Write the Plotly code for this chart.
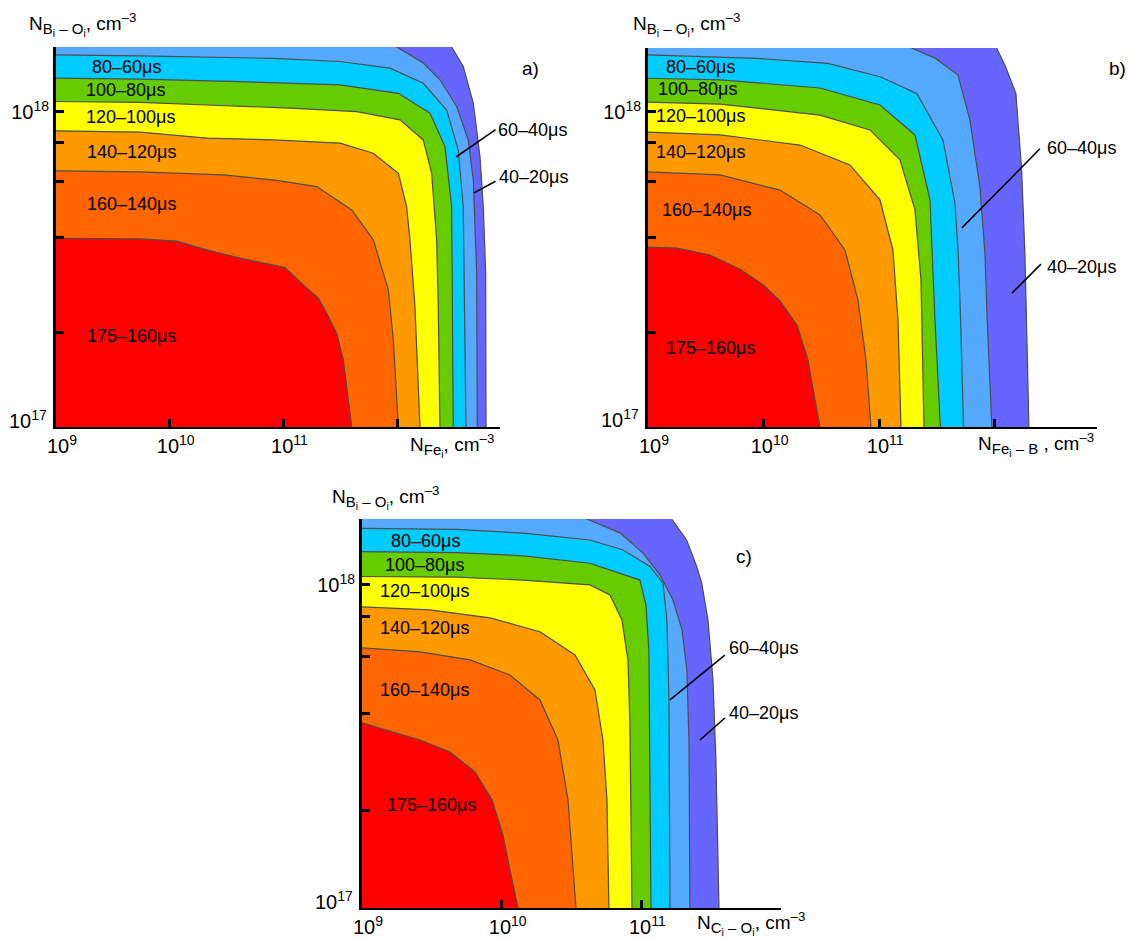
import plotly.graph_objects as go

# ---------------- data (log10 of concentrations) ----------------
LEVELS = [160, 140, 120, 100, 80, 60, 40, 20]          # lifetime contour levels, µs
REGION_COLORS = ["#FF0000", "#FF6600", "#FF9900", "#FFFF00",
                 "#66CC00", "#00CCFF", "#55AAFF", "#6666FF"]
REGION_LABELS = ["175–160μs", "160–140μs", "140–120μs", "120–100μs",
                 "100–80μs", "80–60μs", "60–40μs", "40–20μs"]

X_TICKS = [9, 10, 11, 12]
X_TICK_TEXT = ["10<sup>9</sup>", "10<sup>10</sup>", "10<sup>11</sup>", ""]
Y_TICKS = [1e17, 2e17, 4e17, 6e17, 8e17, 1e18]
Y_TICK_TEXT = ["", "", "", "", "", "10<sup>18</sup>"]
Y_BOTTOM_TEXT = "10<sup>17</sup>"

# panel a) Fe_i
A_RANGE_X = [9.0, 12.905]
A_RANGE_Y = [17.0, 18.206]
A_LOGX = [
    [9, 9.739, 10.061, 10.325, 10.618, 11.014, 11.175, 11.307, 11.366, 11.469, 11.527, 11.601],
    [9, 9.739, 10.472, 10.911, 11.293, 11.601, 11.791, 11.879, 11.923, 11.967, 12.011],
    [9, 9.739, 10.325, 10.911, 11.498, 11.791, 12.011, 12.084, 12.113, 12.157, 12.201],
    [9, 9.739, 10.325, 11.058, 11.645, 12.026, 12.230, 12.304, 12.348, 12.362, 12.377],
    [9, 9.739, 10.618, 11.498, 12.011, 12.289, 12.421, 12.480, 12.494],
    [9, 9.739, 10.911, 11.498, 11.938, 12.230, 12.436, 12.538, 12.582, 12.606],
    [11.996, 12.230, 12.377, 12.524, 12.626, 12.670, 12.700, 12.705],
    [12.480, 12.582, 12.670, 12.729, 12.758, 12.779, 12.782],
]
A_LOGY = [
    [17.599, 17.597, 17.590, 17.562, 17.536, 17.506, 17.451, 17.409, 17.371, 17.297, 17.213, 17.0],
    [17.813, 17.810, 17.800, 17.784, 17.763, 17.689, 17.594, 17.488, 17.435, 17.276, 17.0],
    [17.940, 17.936, 17.917, 17.911, 17.901, 17.869, 17.805, 17.699, 17.594, 17.382, 17.0],
    [18.033, 18.030, 18.022, 18.012, 18.001, 17.975, 17.911, 17.805, 17.594, 17.382, 17.0],
    [18.107, 18.104, 18.096, 18.086, 18.059, 17.996, 17.890, 17.699, 17.0],
    [18.181, 18.178, 18.170, 18.160, 18.139, 18.091, 18.006, 17.879, 17.699, 17.0],
    [18.206, 18.155, 18.102, 18.017, 17.911, 17.784, 17.488, 17.0],
    [18.206, 18.144, 18.028, 17.858, 17.699, 17.488, 17.0],
]
A_LABEL_X = [9.668, 9.668, 9.668, 9.651, 9.607, 9.624, 12.870, 12.879]
A_LABEL_Y = [17.289, 17.708, 17.873, 17.984, 18.070, 18.143, 17.943, 17.794]
A_LEADERS = [[(12.518, 17.857), (12.866, 17.944)], [(12.676, 17.743), (12.866, 17.780)]]

# panel b) Fe_i-B
B_RANGE_X = [9.0, 12.885]
B_RANGE_Y = [17.0, 18.203]
B_LOGX = [
    [9, 9.25, 9.536, 9.80, 10.0, 10.142, 10.289, 10.384, 10.445, 10.488],
    [9, 9.623, 10.142, 10.488, 10.704, 10.817, 10.886, 10.929],
    [9, 9.623, 10.315, 10.747, 11.007, 11.119, 11.163, 11.189],
    [9, 9.623, 10.488, 10.920, 11.180, 11.310, 11.362, 11.388],
    [9, 9.623, 10.488, 11.007, 11.310, 11.44, 11.483, 11.53],
    [9, 9.943, 10.557, 11.016, 11.327, 11.552, 11.656, 11.684, 11.705, 11.73],
    [11.280, 11.483, 11.682, 11.785, 11.872, 11.915, 11.935, 11.975],
    [12.016, 12.093, 12.183, 12.201, 12.233, 12.261, 12.276, 12.296],
]
B_LOGY = [
    [17.571, 17.568, 17.546, 17.50, 17.45, 17.40, 17.324, 17.213, 17.086, 17.0],
    [17.810, 17.800, 17.752, 17.673, 17.562, 17.403, 17.213, 17.0],
    [17.936, 17.927, 17.895, 17.832, 17.721, 17.562, 17.340, 17.0],
    [18.031, 18.025, 17.990, 17.943, 17.848, 17.689, 17.467, 17.0],
    [18.107, 18.102, 18.076, 18.022, 17.927, 17.721, 17.340, 17.0],
    [18.181, 18.170, 18.154, 18.111, 18.058, 17.911, 17.711, 17.552, 17.340, 17.0],
    [18.203, 18.171, 18.117, 17.975, 17.762, 17.552, 17.340, 17.0],
    [18.203, 18.144, 18.059, 17.975, 17.816, 17.552, 17.340, 17.0],
]
B_LABEL_X = [9.545, 9.502, 9.450, 9.450, 9.424, 9.458, 12.434, 12.434]
B_LABEL_Y = [17.251, 17.689, 17.873, 17.987, 18.073, 18.143, 17.886, 17.508]
B_LEADERS = [[(11.716, 17.632), (12.391, 17.883)], [(12.149, 17.425), (12.400, 17.517)]]

# panel c) C_i-O_i
C_RANGE_X = [9.0, 12.0]
C_RANGE_Y = [17.0, 18.204]
C_LOGX = [
    [9, 9.415, 9.630, 9.809, 9.931, 10.009, 10.059, 10.117],
    [9, 9.415, 9.773, 10.059, 10.274, 10.403, 10.475, 10.532],
    [9, 9.487, 9.916, 10.274, 10.525, 10.668, 10.725, 10.754, 10.768],
    [9, 9.678, 10.152, 10.632, 10.775, 10.861, 10.904, 10.918, 10.933],
    [9, 9.678, 10.155, 10.632, 10.990, 11.033, 11.054, 11.069],
    [9, 9.678, 10.155, 10.632, 10.870, 11.062, 11.155, 11.183, 11.198, 11.205],
    [10.608, 10.847, 11.011, 11.133, 11.226, 11.291, 11.326, 11.341, 11.348],
    [11.217, 11.324, 11.396, 11.432, 11.477, 11.513, 11.534, 11.556],
]
C_LOGY = [
    [17.573, 17.520, 17.483, 17.421, 17.334, 17.226, 17.118, 17.0],
    [17.805, 17.793, 17.768, 17.721, 17.644, 17.520, 17.334, 17.0],
    [17.932, 17.923, 17.898, 17.855, 17.783, 17.675, 17.520, 17.334, 17.0],
    [18.026, 18.024, 18.015, 18.0, 17.969, 17.892, 17.768, 17.582, 17.0],
    [18.103, 18.100, 18.090, 18.067, 18.015, 17.938, 17.799, 17.0],
    [18.175, 18.172, 18.160, 18.139, 18.108, 18.057, 18.006, 17.892, 17.644, 17.0],
    [18.204, 18.161, 18.099, 18.031, 17.954, 17.861, 17.737, 17.520, 17.0],
    [18.204, 18.139, 18.057, 18.006, 17.892, 17.706, 17.458, 17.0],
]
C_LABEL_X = [9.501, 9.444, 9.444, 9.444, 9.451, 9.458, 11.613, 11.613]
C_LABEL_Y = [17.319, 17.675, 17.867, 17.981, 18.062, 18.136, 17.805, 17.604]
C_LEADERS = [[(11.205, 17.644), (11.598, 17.783)], [(11.420, 17.520), (11.598, 17.588)]]

# ---------------- figure ----------------
W, H = 1129, 940
FONT = "Liberation Sans, Arial, sans-serif"
fig = go.Figure()

def px_dom(a, b, total):
    return [a / total, b / total]

PANELS = [
    dict(name="a", xa="x", ya="y", rx=A_RANGE_X, ry=A_RANGE_Y, lx=A_LOGX, ly=A_LOGY,
         labx=A_LABEL_X, laby=A_LABEL_Y, leaders=A_LEADERS,
         xdom=px_dom(56, 500, W), ydom=[1 - 427 / H, 1 - 47 / H]),
    dict(name="b", xa="x2", ya="y2", rx=B_RANGE_X, ry=B_RANGE_Y, lx=B_LOGX, ly=B_LOGY,
         labx=B_LABEL_X, laby=B_LABEL_Y, leaders=B_LEADERS,
         xdom=px_dom(648, 1097, W), ydom=[1 - 427 / H, 1 - 48 / H]),
    dict(name="c", xa="x3", ya="y3", rx=C_RANGE_X, ry=C_RANGE_Y, lx=C_LOGX, ly=C_LOGY,
         labx=C_LABEL_X, laby=C_LABEL_Y, leaders=C_LEADERS,
         xdom=px_dom(362, 781, W), ydom=[1 - 908 / H, 1 - 519 / H]),
]

annotations = []
for p in PANELS:
    x0, y0 = p["rx"][0], p["ry"][0]
    ytop = p["ry"][1]
    # filled regions, outermost first
    for i in reversed(range(len(LEVELS))):
        cx, cy = p["lx"][i], p["ly"][i]
        px_ = [x0, cx[-1]] + cx[::-1]
        py_ = [y0, y0] + cy[::-1]
        if cx[0] > x0:           # contour starts on the top edge
            px_.append(x0)
            py_.append(ytop)
        px_.append(x0)
        py_.append(y0)
        fig.add_trace(go.Scatter(
            x=[10 ** v for v in px_], y=[10 ** v for v in py_],
            fill="toself", fillcolor=REGION_COLORS[i], mode="lines",
            line=dict(width=0, color=REGION_COLORS[i]),
            xaxis=p["xa"], yaxis=p["ya"], hoverinfo="skip", showlegend=False))
    # contour lines
    for i in range(len(LEVELS)):
        fig.add_trace(go.Scatter(
            x=[10 ** v for v in p["lx"][i]], y=[10 ** v for v in p["ly"][i]],
            mode="lines", line=dict(width=1.2, color="#4d4d4d"),
            xaxis=p["xa"], yaxis=p["ya"], hoverinfo="skip", showlegend=False))
    # leader lines
    for seg in p["leaders"]:
        fig.add_trace(go.Scatter(
            x=[10 ** s[0] for s in seg], y=[10 ** s[1] for s in seg],
            mode="lines", line=dict(width=1.6, color="black"),
            xaxis=p["xa"], yaxis=p["ya"], hoverinfo="skip", showlegend=False))
    # region labels
    for i, txt in enumerate(REGION_LABELS):
        annotations.append(dict(
            x=p["labx"][i], y=p["laby"][i], xref=p["xa"], yref=p["ya"],
            text=txt, showarrow=False,
            xanchor="left" if i >= 6 else "center", yanchor="middle",
            font=dict(family=FONT, size=18, color="black")))
    # bottom y tick label (raised slightly above the x axis, as in the original)
    annotations.append(dict(
        x=p["xdom"][0], y=p["ry"][0], xref="paper", yref=p["ya"],
        text=Y_BOTTOM_TEXT, showarrow=False, xanchor="right", yanchor="middle",
        xshift=-7, yshift=8, font=dict(family=FONT, size=20, color="black")))

# panel letters
for txt, xp, yp in [("a)", 530, 68), ("b)", 1117, 68), ("c)", 744, 556)]:
    annotations.append(dict(x=xp / W, y=1 - yp / H, xref="paper", yref="paper",
                            text=txt, showarrow=False, xanchor="center", yanchor="middle",
                            font=dict(family=FONT, size=19, color="black")))

# axis titles
SUB = "<span style='font-size:15px'>%s</span>"
YT = "N<sub>" + SUB % "B<sub>i</sub> – O<sub>i</sub>" + "</sub>, cm<sup>–3</sup>"
for xp, yp in [(27, 25), (631, 25), (330, 497)]:
    annotations.append(dict(x=xp / W, y=1 - yp / H, xref="paper", yref="paper",
                            text=YT, showarrow=False, xanchor="left", yanchor="middle",
                            font=dict(family=FONT, size=19, color="black")))
for txt, xp, yp in [("N<sub>" + SUB % "Fe<sub>i</sub>" + "</sub>, cm<sup>–3</sup>", 408, 446),
                    ("N<sub>" + SUB % "Fe<sub>i</sub> – B" + "</sub> , cm<sup>–3</sup>", 976, 444),
                    ("N<sub>" + SUB % "C<sub>i</sub> – O<sub>i</sub>" + "</sub>, cm<sup>–3</sup>", 695, 923)]:
    annotations.append(dict(x=xp / W, y=1 - yp / H, xref="paper", yref="paper",
                            text=txt, showarrow=False, xanchor="left", yanchor="middle",
                            font=dict(family=FONT, size=19, color="black")))

layout = dict(width=W, height=H, margin=dict(l=0, r=0, t=0, b=0, autoexpand=False),
              paper_bgcolor="white", plot_bgcolor="white", showlegend=False,
              annotations=annotations)

for k, p in enumerate(PANELS):
    sx = "" if k == 0 else str(k + 1)
    end_tick = p["rx"][1] - 0.003
    tv = [10 ** v for v in X_TICKS if v < p["rx"][1] - 0.05] + [10 ** end_tick]
    tt = X_TICK_TEXT[:len(tv) - 1] + [""]
    layout["xaxis" + sx] = dict(
        type="log", range=p["rx"], domain=p["xdom"], anchor="y" + sx,
        showline=True, linecolor="black", linewidth=2, mirror=False,
        ticks="inside", ticklen=8, tickwidth=3, tickcolor="black",
        tickvals=tv, ticktext=tt, showgrid=False, zeroline=False, automargin=False,
        ticklabelshift=6,
        tickfont=dict(family=FONT, size=20, color="black"))
    layout["yaxis" + sx] = dict(
        type="log", range=p["ry"], domain=p["ydom"], anchor="x" + sx,
        showline=True, linecolor="black", linewidth=3, mirror=False,
        ticks="inside", ticklen=8, tickwidth=3, tickcolor="black",
        tickvals=Y_TICKS, ticktext=Y_TICK_TEXT, showgrid=False, zeroline=False,
        automargin=False, tickfont=dict(family=FONT, size=20, color="black"))

fig.update_layout(**layout)
fig.write_html("out.html", config={"displayModeBar": False},
               post_script="document.body.style.margin='0';document.body.style.padding='0';")
